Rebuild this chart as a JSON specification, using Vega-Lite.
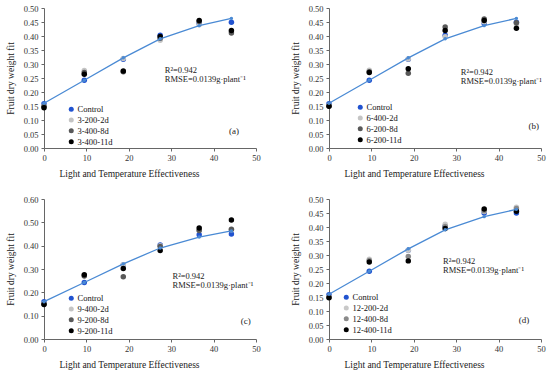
{
  "$schema": "https://vega.github.io/schema/vega-lite/v6.json",
  "padding": {"left": 5, "top": 4, "right": 5, "bottom": 5},
  "background": "white",
  "datasets": {
    "sim": [
      {"x": 0, "y": 0.160}, {"x": 9.5, "y": 0.242}, {"x": 18.7, "y": 0.322},
      {"x": 27.4, "y": 0.390}, {"x": 36.6, "y": 0.437}, {"x": 44.2, "y": 0.463}
    ],
    "obs": [
      {"panel": "a", "series": "Control", "x": 0, "y": 0.158},
      {"panel": "a", "series": "Control", "x": 9.5, "y": 0.242},
      {"panel": "a", "series": "Control", "x": 18.7, "y": 0.317},
      {"panel": "a", "series": "Control", "x": 27.4, "y": 0.403},
      {"panel": "a", "series": "Control", "x": 36.6, "y": 0.445},
      {"panel": "a", "series": "Control", "x": 44.2, "y": 0.449},
      {"panel": "a", "series": "3-200-2d", "x": 0, "y": 0.150},
      {"panel": "a", "series": "3-200-2d", "x": 9.5, "y": 0.277},
      {"panel": "a", "series": "3-200-2d", "x": 18.7, "y": 0.320},
      {"panel": "a", "series": "3-200-2d", "x": 27.4, "y": 0.385},
      {"panel": "a", "series": "3-200-2d", "x": 36.6, "y": 0.440},
      {"panel": "a", "series": "3-200-2d", "x": 44.2, "y": 0.415},
      {"panel": "a", "series": "3-400-8d", "x": 0, "y": 0.148},
      {"panel": "a", "series": "3-400-8d", "x": 9.5, "y": 0.270},
      {"panel": "a", "series": "3-400-8d", "x": 18.7, "y": 0.272},
      {"panel": "a", "series": "3-400-8d", "x": 27.4, "y": 0.392},
      {"panel": "a", "series": "3-400-8d", "x": 36.6, "y": 0.452},
      {"panel": "a", "series": "3-400-8d", "x": 44.2, "y": 0.411},
      {"panel": "a", "series": "3-400-11d", "x": 0, "y": 0.144},
      {"panel": "a", "series": "3-400-11d", "x": 9.5, "y": 0.263},
      {"panel": "a", "series": "3-400-11d", "x": 18.7, "y": 0.275},
      {"panel": "a", "series": "3-400-11d", "x": 27.4, "y": 0.398},
      {"panel": "a", "series": "3-400-11d", "x": 36.6, "y": 0.455},
      {"panel": "a", "series": "3-400-11d", "x": 44.2, "y": 0.420},

      {"panel": "b", "series": "Control", "x": 0, "y": 0.158},
      {"panel": "b", "series": "Control", "x": 9.5, "y": 0.242},
      {"panel": "b", "series": "Control", "x": 18.7, "y": 0.317},
      {"panel": "b", "series": "Control", "x": 27.4, "y": 0.403},
      {"panel": "b", "series": "Control", "x": 36.6, "y": 0.445},
      {"panel": "b", "series": "Control", "x": 44.2, "y": 0.449},
      {"panel": "b", "series": "6-400-2d", "x": 0, "y": 0.152},
      {"panel": "b", "series": "6-400-2d", "x": 9.5, "y": 0.278},
      {"panel": "b", "series": "6-400-2d", "x": 18.7, "y": 0.318},
      {"panel": "b", "series": "6-400-2d", "x": 27.4, "y": 0.397},
      {"panel": "b", "series": "6-400-2d", "x": 36.6, "y": 0.450},
      {"panel": "b", "series": "6-400-2d", "x": 44.2, "y": 0.443},
      {"panel": "b", "series": "6-200-8d", "x": 0, "y": 0.150},
      {"panel": "b", "series": "6-200-8d", "x": 9.5, "y": 0.272},
      {"panel": "b", "series": "6-200-8d", "x": 18.7, "y": 0.267},
      {"panel": "b", "series": "6-200-8d", "x": 27.4, "y": 0.432},
      {"panel": "b", "series": "6-200-8d", "x": 36.6, "y": 0.461},
      {"panel": "b", "series": "6-200-8d", "x": 44.2, "y": 0.447},
      {"panel": "b", "series": "6-200-11d", "x": 0, "y": 0.149},
      {"panel": "b", "series": "6-200-11d", "x": 9.5, "y": 0.270},
      {"panel": "b", "series": "6-200-11d", "x": 18.7, "y": 0.283},
      {"panel": "b", "series": "6-200-11d", "x": 27.4, "y": 0.420},
      {"panel": "b", "series": "6-200-11d", "x": 36.6, "y": 0.455},
      {"panel": "b", "series": "6-200-11d", "x": 44.2, "y": 0.428},

      {"panel": "c", "series": "Control", "x": 0, "y": 0.160},
      {"panel": "c", "series": "Control", "x": 9.5, "y": 0.242},
      {"panel": "c", "series": "Control", "x": 18.7, "y": 0.317},
      {"panel": "c", "series": "Control", "x": 27.4, "y": 0.403},
      {"panel": "c", "series": "Control", "x": 36.6, "y": 0.447},
      {"panel": "c", "series": "Control", "x": 44.2, "y": 0.450},
      {"panel": "c", "series": "9-400-2d", "x": 0, "y": 0.152},
      {"panel": "c", "series": "9-400-2d", "x": 9.5, "y": 0.272},
      {"panel": "c", "series": "9-400-2d", "x": 18.7, "y": 0.318},
      {"panel": "c", "series": "9-400-2d", "x": 27.4, "y": 0.400},
      {"panel": "c", "series": "9-400-2d", "x": 36.6, "y": 0.466},
      {"panel": "c", "series": "9-400-2d", "x": 44.2, "y": 0.468},
      {"panel": "c", "series": "9-200-8d", "x": 0, "y": 0.150},
      {"panel": "c", "series": "9-200-8d", "x": 9.5, "y": 0.270},
      {"panel": "c", "series": "9-200-8d", "x": 18.7, "y": 0.267},
      {"panel": "c", "series": "9-200-8d", "x": 27.4, "y": 0.397},
      {"panel": "c", "series": "9-200-8d", "x": 36.6, "y": 0.465},
      {"panel": "c", "series": "9-200-8d", "x": 44.2, "y": 0.470},
      {"panel": "c", "series": "9-200-11d", "x": 0, "y": 0.148},
      {"panel": "c", "series": "9-200-11d", "x": 9.5, "y": 0.275},
      {"panel": "c", "series": "9-200-11d", "x": 18.7, "y": 0.302},
      {"panel": "c", "series": "9-200-11d", "x": 27.4, "y": 0.379},
      {"panel": "c", "series": "9-200-11d", "x": 36.6, "y": 0.476},
      {"panel": "c", "series": "9-200-11d", "x": 44.2, "y": 0.510},

      {"panel": "d", "series": "Control", "x": 0, "y": 0.158},
      {"panel": "d", "series": "Control", "x": 9.5, "y": 0.242},
      {"panel": "d", "series": "Control", "x": 18.7, "y": 0.317},
      {"panel": "d", "series": "Control", "x": 27.4, "y": 0.403},
      {"panel": "d", "series": "Control", "x": 36.6, "y": 0.450},
      {"panel": "d", "series": "Control", "x": 44.2, "y": 0.450},
      {"panel": "d", "series": "12-200-2d", "x": 0, "y": 0.150},
      {"panel": "d", "series": "12-200-2d", "x": 9.5, "y": 0.285},
      {"panel": "d", "series": "12-200-2d", "x": 18.7, "y": 0.317},
      {"panel": "d", "series": "12-200-2d", "x": 27.4, "y": 0.410},
      {"panel": "d", "series": "12-200-2d", "x": 36.6, "y": 0.455},
      {"panel": "d", "series": "12-200-2d", "x": 44.2, "y": 0.471},
      {"panel": "d", "series": "12-400-8d", "x": 0, "y": 0.149},
      {"panel": "d", "series": "12-400-8d", "x": 9.5, "y": 0.280},
      {"panel": "d", "series": "12-400-8d", "x": 18.7, "y": 0.295},
      {"panel": "d", "series": "12-400-8d", "x": 27.4, "y": 0.402},
      {"panel": "d", "series": "12-400-8d", "x": 36.6, "y": 0.458},
      {"panel": "d", "series": "12-400-8d", "x": 44.2, "y": 0.466},
      {"panel": "d", "series": "12-400-11d", "x": 0, "y": 0.147},
      {"panel": "d", "series": "12-400-11d", "x": 9.5, "y": 0.275},
      {"panel": "d", "series": "12-400-11d", "x": 18.7, "y": 0.279},
      {"panel": "d", "series": "12-400-11d", "x": 27.4, "y": 0.395},
      {"panel": "d", "series": "12-400-11d", "x": 36.6, "y": 0.464},
      {"panel": "d", "series": "12-400-11d", "x": 44.2, "y": 0.456}
    ]
  },
  "spacing": 17,
  "resolve": {"scale": {"color": "independent", "x": "independent", "y": "independent"}},
  "vconcat": [
    {
      "spacing": 29,
      "resolve": {"scale": {"color": "independent", "x": "independent", "y": "independent"}},
      "hconcat": [
        {
          "width": 212, "height": 140,
          "layer": [
            {
              "data": {"name": "obs"},
              "transform": [{"filter": "datum.panel == 'a'"}],
              "mark": {"type": "point", "filled": true, "size": 30, "opacity": 1},
              "encoding": {
                "x": {"field": "x", "type": "quantitative", "scale": {"domain": [0, 50]}, "axis": {"values": [0, 10, 20, 30, 40, 50], "title": "Light and Temperature Effectiveness"}},
                "y": {"field": "y", "type": "quantitative", "scale": {"domain": [0, 0.5]}, "axis": {"values": [0, 0.05, 0.1, 0.15, 0.2, 0.25, 0.3, 0.35, 0.4, 0.45, 0.5], "format": ".2f", "title": "Fruit dry weight fit"}},
                "color": {"field": "series", "type": "nominal", "scale": {"domain": ["Control", "3-200-2d", "3-400-8d", "3-400-11d"], "range": ["#2153d0", "#c4c4c4", "#595959", "#000000"]}, "legend": {"title": null, "orient": "none", "legendX": 23, "legendY": 97}}
              }
            },
            {
              "data": {"name": "sim"},
              "mark": {"type": "line", "color": "#4a8ad4", "strokeWidth": 1.3, "point": {"filled": true, "size": 12, "color": "#4a8ad4"}},
              "encoding": {
                "x": {"field": "x", "type": "quantitative", "axis": {"values": [0, 10, 20, 30, 40, 50], "title": "Light and Temperature Effectiveness"}},
                "y": {"field": "y", "type": "quantitative", "axis": {"values": [0, 0.05, 0.1, 0.15, 0.2, 0.25, 0.3, 0.35, 0.4, 0.45, 0.5], "format": ".2f", "title": "Fruit dry weight fit"}}
              }
            },
            {"data": {"values": [{}]}, "mark": {"type": "text", "align": "left", "baseline": "middle", "fontSize": 8.5, "font": "Liberation Serif", "color": "#222", "lineBreak": "\n", "lineHeight": 9},
             "encoding": {"x": {"datum": 28.5, "type": "quantitative", "axis": {"values": [0, 10, 20, 30, 40, 50], "title": "Light and Temperature Effectiveness"}}, "y": {"datum": 0.277, "type": "quantitative", "axis": {"values": [0, 0.05, 0.1, 0.15, 0.2, 0.25, 0.3, 0.35, 0.4, 0.45, 0.5], "format": ".2f", "title": "Fruit dry weight fit"}}, "text": {"value": "R²=0.942\nRMSE=0.0139g·plant⁻¹"}}},
            {"data": {"values": [{}]}, "mark": {"type": "text", "align": "center", "baseline": "middle", "fontSize": 9, "font": "Liberation Serif", "color": "#222"},
             "encoding": {"x": {"datum": 44.8, "type": "quantitative", "axis": {"values": [0, 10, 20, 30, 40, 50], "title": "Light and Temperature Effectiveness"}}, "y": {"datum": 0.061, "type": "quantitative", "axis": {"values": [0, 0.05, 0.1, 0.15, 0.2, 0.25, 0.3, 0.35, 0.4, 0.45, 0.5], "format": ".2f", "title": "Fruit dry weight fit"}}, "text": {"value": "(a)"}}}
          ]
        },
        {
          "width": 212, "height": 140,
          "layer": [
            {
              "data": {"name": "obs"},
              "transform": [{"filter": "datum.panel == 'b'"}],
              "mark": {"type": "point", "filled": true, "size": 30, "opacity": 1},
              "encoding": {
                "x": {"field": "x", "type": "quantitative", "scale": {"domain": [0, 50]}, "axis": {"values": [0, 10, 20, 30, 40, 50], "title": "Light and Temperature Effectiveness"}},
                "y": {"field": "y", "type": "quantitative", "scale": {"domain": [0, 0.5]}, "axis": {"values": [0, 0.05, 0.1, 0.15, 0.2, 0.25, 0.3, 0.35, 0.4, 0.45, 0.5], "format": ".2f", "title": "Fruit dry weight fit"}},
                "color": {"field": "series", "type": "nominal", "scale": {"domain": ["Control", "6-400-2d", "6-200-8d", "6-200-11d"], "range": ["#2153d0", "#c4c4c4", "#595959", "#000000"]}, "legend": {"title": null, "orient": "none", "legendX": 27, "legendY": 95}}
              }
            },
            {
              "data": {"name": "sim"},
              "mark": {"type": "line", "color": "#4a8ad4", "strokeWidth": 1.3, "point": {"filled": true, "size": 12, "color": "#4a8ad4"}},
              "encoding": {
                "x": {"field": "x", "type": "quantitative", "axis": {"values": [0, 10, 20, 30, 40, 50], "title": "Light and Temperature Effectiveness"}},
                "y": {"field": "y", "type": "quantitative", "axis": {"values": [0, 0.05, 0.1, 0.15, 0.2, 0.25, 0.3, 0.35, 0.4, 0.45, 0.5], "format": ".2f", "title": "Fruit dry weight fit"}}
              }
            },
            {"data": {"values": [{}]}, "mark": {"type": "text", "align": "left", "baseline": "middle", "fontSize": 8.5, "font": "Liberation Serif", "color": "#222", "lineBreak": "\n", "lineHeight": 9},
             "encoding": {"x": {"datum": 31.1, "type": "quantitative", "axis": {"values": [0, 10, 20, 30, 40, 50], "title": "Light and Temperature Effectiveness"}}, "y": {"datum": 0.27, "type": "quantitative", "axis": {"values": [0, 0.05, 0.1, 0.15, 0.2, 0.25, 0.3, 0.35, 0.4, 0.45, 0.5], "format": ".2f", "title": "Fruit dry weight fit"}}, "text": {"value": "R²=0.942\nRMSE=0.0139g·plant⁻¹"}}},
            {"data": {"values": [{}]}, "mark": {"type": "text", "align": "center", "baseline": "middle", "fontSize": 9, "font": "Liberation Serif", "color": "#222"},
             "encoding": {"x": {"datum": 48.3, "type": "quantitative", "axis": {"values": [0, 10, 20, 30, 40, 50], "title": "Light and Temperature Effectiveness"}}, "y": {"datum": 0.079, "type": "quantitative", "axis": {"values": [0, 0.05, 0.1, 0.15, 0.2, 0.25, 0.3, 0.35, 0.4, 0.45, 0.5], "format": ".2f", "title": "Fruit dry weight fit"}}, "text": {"value": "(b)"}}}
          ]
        }
      ]
    },
    {
      "spacing": 29,
      "resolve": {"scale": {"color": "independent", "x": "independent", "y": "independent"}},
      "hconcat": [
        {
          "width": 212, "height": 140,
          "layer": [
            {
              "data": {"name": "obs"},
              "transform": [{"filter": "datum.panel == 'c'"}],
              "mark": {"type": "point", "filled": true, "size": 30, "opacity": 1},
              "encoding": {
                "x": {"field": "x", "type": "quantitative", "scale": {"domain": [0, 50]}, "axis": {"values": [0, 10, 20, 30, 40, 50], "title": "Light and Temperature Effectiveness"}},
                "y": {"field": "y", "type": "quantitative", "scale": {"domain": [0, 0.6]}, "axis": {"values": [0, 0.1, 0.2, 0.3, 0.4, 0.5, 0.6], "format": ".2f", "title": "Fruit dry weight fit"}},
                "color": {"field": "series", "type": "nominal", "scale": {"domain": ["Control", "9-400-2d", "9-200-8d", "9-200-11d"], "range": ["#2153d0", "#c4c4c4", "#595959", "#000000"]}, "legend": {"title": null, "orient": "none", "legendX": 23, "legendY": 95}}
              }
            },
            {
              "data": {"name": "sim"},
              "mark": {"type": "line", "color": "#4a8ad4", "strokeWidth": 1.3, "point": {"filled": true, "size": 12, "color": "#4a8ad4"}},
              "encoding": {
                "x": {"field": "x", "type": "quantitative", "axis": {"values": [0, 10, 20, 30, 40, 50], "title": "Light and Temperature Effectiveness"}},
                "y": {"field": "y", "type": "quantitative", "axis": {"values": [0, 0.1, 0.2, 0.3, 0.4, 0.5, 0.6], "format": ".2f", "title": "Fruit dry weight fit"}}
              }
            },
            {"data": {"values": [{}]}, "mark": {"type": "text", "align": "left", "baseline": "middle", "fontSize": 8.5, "font": "Liberation Serif", "color": "#222", "lineBreak": "\n", "lineHeight": 9},
             "encoding": {"x": {"datum": 30.3, "type": "quantitative", "axis": {"values": [0, 10, 20, 30, 40, 50], "title": "Light and Temperature Effectiveness"}}, "y": {"datum": 0.27, "type": "quantitative", "axis": {"values": [0, 0.1, 0.2, 0.3, 0.4, 0.5, 0.6], "format": ".2f", "title": "Fruit dry weight fit"}}, "text": {"value": "R²=0.942\nRMSE=0.0139g·plant⁻¹"}}},
            {"data": {"values": [{}]}, "mark": {"type": "text", "align": "center", "baseline": "middle", "fontSize": 9, "font": "Liberation Serif", "color": "#222"},
             "encoding": {"x": {"datum": 47.6, "type": "quantitative", "axis": {"values": [0, 10, 20, 30, 40, 50], "title": "Light and Temperature Effectiveness"}}, "y": {"datum": 0.077, "type": "quantitative", "axis": {"values": [0, 0.1, 0.2, 0.3, 0.4, 0.5, 0.6], "format": ".2f", "title": "Fruit dry weight fit"}}, "text": {"value": "(c)"}}}
          ]
        },
        {
          "width": 212, "height": 140,
          "layer": [
            {
              "data": {"name": "obs"},
              "transform": [{"filter": "datum.panel == 'd'"}],
              "mark": {"type": "point", "filled": true, "size": 30, "opacity": 1},
              "encoding": {
                "x": {"field": "x", "type": "quantitative", "scale": {"domain": [0, 50]}, "axis": {"values": [0, 10, 20, 30, 40, 50], "title": "Light and Temperature Effectiveness"}},
                "y": {"field": "y", "type": "quantitative", "scale": {"domain": [0, 0.5]}, "axis": {"values": [0, 0.05, 0.1, 0.15, 0.2, 0.25, 0.3, 0.35, 0.4, 0.45, 0.5], "format": ".2f", "title": "Fruit dry weight fit"}},
                "color": {"field": "series", "type": "nominal", "scale": {"domain": ["Control", "12-200-2d", "12-400-8d", "12-400-11d"], "range": ["#2153d0", "#c8c8c8", "#8a8a8a", "#000000"]}, "legend": {"title": null, "orient": "none", "legendX": 13, "legendY": 94}}
              }
            },
            {
              "data": {"name": "sim"},
              "mark": {"type": "line", "color": "#4a8ad4", "strokeWidth": 1.3, "point": {"filled": true, "size": 12, "color": "#4a8ad4"}},
              "encoding": {
                "x": {"field": "x", "type": "quantitative", "axis": {"values": [0, 10, 20, 30, 40, 50], "title": "Light and Temperature Effectiveness"}},
                "y": {"field": "y", "type": "quantitative", "axis": {"values": [0, 0.05, 0.1, 0.15, 0.2, 0.25, 0.3, 0.35, 0.4, 0.45, 0.5], "format": ".2f", "title": "Fruit dry weight fit"}}
              }
            },
            {"data": {"values": [{}]}, "mark": {"type": "text", "align": "left", "baseline": "middle", "fontSize": 8.5, "font": "Liberation Serif", "color": "#222", "lineBreak": "\n", "lineHeight": 9},
             "encoding": {"x": {"datum": 26.9, "type": "quantitative", "axis": {"values": [0, 10, 20, 30, 40, 50], "title": "Light and Temperature Effectiveness"}}, "y": {"datum": 0.277, "type": "quantitative", "axis": {"values": [0, 0.05, 0.1, 0.15, 0.2, 0.25, 0.3, 0.35, 0.4, 0.45, 0.5], "format": ".2f", "title": "Fruit dry weight fit"}}, "text": {"value": "R²=0.942\nRMSE=0.0139g·plant⁻¹"}}},
            {"data": {"values": [{}]}, "mark": {"type": "text", "align": "center", "baseline": "middle", "fontSize": 9, "font": "Liberation Serif", "color": "#222"},
             "encoding": {"x": {"datum": 46, "type": "quantitative", "axis": {"values": [0, 10, 20, 30, 40, 50], "title": "Light and Temperature Effectiveness"}}, "y": {"datum": 0.068, "type": "quantitative", "axis": {"values": [0, 0.05, 0.1, 0.15, 0.2, 0.25, 0.3, 0.35, 0.4, 0.45, 0.5], "format": ".2f", "title": "Fruit dry weight fit"}}, "text": {"value": "(d)"}}}
          ]
        }
      ]
    }
  ],
  "config": {
    "view": {"stroke": null},
    "font": "Liberation Serif",
    "axis": {
      "grid": false,
      "labelFont": "Liberation Serif",
      "titleFont": "Liberation Serif",
      "labelFontSize": 8.5,
      "titleFontSize": 9.5,
      "titleFontWeight": "normal",
      "labelColor": "#333333",
      "titleColor": "#222222",
      "domainColor": "#666666",
      "tickColor": "#666666",
      "tickSize": 3,
      "labelOverlap": false,
      "labelBound": false,
      "labelFlush": false
    },
    "axisX": {"labelPadding": 2, "titlePadding": 7, "titleX": 85},
    "axisY": {"labelPadding": 3, "titlePadding": 8},
    "legend": {
      "labelFont": "Liberation Serif",
      "labelFontSize": 8.5,
      "labelColor": "#111111",
      "symbolSize": 25,
      "symbolType": "circle",
      "rowPadding": 1.8,
      "labelOffset": 2,
      "padding": 0,
      "symbolStrokeWidth": 0
    }
  }
}
